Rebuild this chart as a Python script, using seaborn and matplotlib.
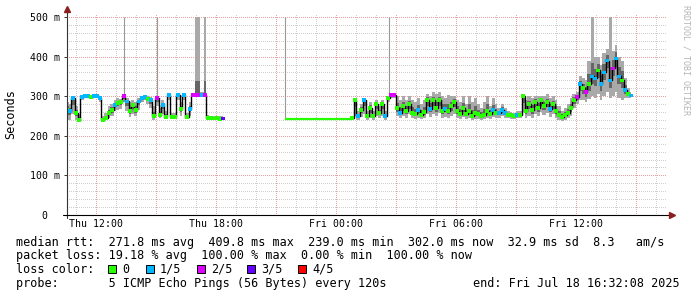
import numpy as np
import matplotlib
matplotlib.use("Agg")
import matplotlib.pyplot as plt
import seaborn as sns
from matplotlib.patches import Rectangle

# ---------------- data (hours since Thu 00:00, rtt in ms) ----------------
window_start = 10.5356   # Thu 10:32:08
window_end = 40.5356     # Fri 16:32:08
step_h = 0.15            # sampling step of the series (hours)

seg_a_start = 10.5356
seg_a_median = [265, 262, 295, 258, 240, 298, 300, 300, 298, 300,
                300, 296, 240, 245, 258, 265, 278, 283, 285, 300,
                287, 263, 278, 265, 287, 295, 298, 293, 290, 250,
                295, 252, 278, 248, 303, 248, 248, 303, 268, 303,
                248, 268, 303, 303, 303, 303, 303, 245, 245, 244,
                245, 243, 244]
seg_a_hi = [285, 280, 300, 275, 255, 302, 303, 303, 302, 303,
            303, 300, 250, 258, 275, 280, 290, 295, 292, 305,
            295, 285, 290, 285, 295, 300, 302, 300, 298, 275,
            300, 270, 290, 262, 306, 258, 258, 306, 285, 306,
            258, 285, 306, 500, 500, 310, 500, 252, 250, 250,
            250, 249, 250]
seg_a_lo = [240, 240, 255, 240, 236, 290, 295, 295, 293, 295,
            295, 285, 236, 240, 245, 250, 262, 265, 268, 285,
            262, 248, 255, 250, 265, 285, 290, 280, 270, 240,
            275, 245, 255, 242, 290, 242, 242, 290, 250, 290,
            242, 250, 298, 298, 298, 298, 298, 240, 240, 239,
            240, 239, 240]
seg_a_loss = [0, 1, 1, 0, 0, 1, 1, 1, 0, 1,
              1, 1, 0, 0, 0, 0, 1, 0, 0, 2,
              1, 0, 0, 0, 1, 1, 1, 0, 1, 0,
              2, 0, 1, 0, 1, 0, 0, 1, 0, 1,
              0, 1, 2, 2, 2, 1, 2, 0, 0, 0,
              0, 0, 3]

flat_times = [21.4356, 24.7856]
flat_median = [243, 243]

# single outlier pings (thin spikes)
spike_times = [13.3856, 15.0356, 21.4356, 26.6356]
spike_bottom = [300, 295, 243, 303]
spike_top = [500, 500, 500, 500]

seg_c_start = 24.7856
seg_c_median = [245, 290, 250, 265, 290, 250, 270, 250, 280, 258,
                280, 250, 295, 303, 303, 270, 258, 275, 262, 280,
                258, 255, 265, 252, 260, 290, 268, 290, 270, 290,
                262, 268, 262, 275, 285, 262, 255, 270, 255, 262,
                250, 258, 255, 250, 252, 262, 255, 265, 258, 258,
                265, 258, 252, 252, 250, 252, 252, 300, 262, 280,
                265, 285, 270, 290, 275, 285, 268, 280, 262, 252,
                248, 252, 258, 270, 290, 298, 330, 320, 310, 330,
                350, 345, 365, 330, 360, 390, 340, 370, 395, 350,
                340, 315, 305, 302]
seg_c_hi = [250, 295, 262, 280, 295, 262, 285, 262, 290, 275,
            290, 262, 300, 308, 308, 300, 290, 300, 290, 300,
            290, 285, 295, 280, 290, 305, 300, 310, 305, 310,
            300, 295, 303, 300, 300, 290, 285, 300, 280, 300,
            285, 295, 280, 270, 285, 300, 275, 295, 280, 270,
            280, 270, 262, 260, 258, 262, 262, 305, 290, 300,
            295, 300, 300, 300, 300, 305, 295, 300, 290, 275,
            262, 270, 280, 295, 305, 310, 350, 345, 340, 390,
            500, 400, 400, 380, 410, 420, 500, 415, 430, 400,
            390, 345, 320, 310]
seg_c_lo = [240, 250, 240, 248, 255, 240, 245, 240, 250, 245,
            250, 240, 285, 295, 295, 250, 245, 250, 245, 255,
            245, 242, 245, 242, 245, 255, 248, 255, 250, 258,
            245, 248, 245, 250, 255, 245, 242, 248, 242, 245,
            240, 242, 242, 240, 242, 245, 242, 248, 245, 245,
            250, 245, 245, 242, 242, 245, 245, 260, 245, 250,
            245, 255, 250, 260, 252, 258, 248, 255, 245, 240,
            238, 240, 245, 250, 270, 280, 290, 290, 285, 292,
            300, 295, 305, 290, 300, 310, 295, 300, 310, 295,
            290, 295, 295, 295]
seg_c_loss = [0, 0, 1, 0, 1, 0, 0, 0, 0, 0,
              0, 1, 0, 2, 2, 0, 1, 0, 0, 0,
              0, 0, 1, 0, 0, 0, 1, 0, 0, 0,
              0, 1, 0, 0, 0, 0, 0, 0, 0, 0,
              0, 0, 0, 0, 0, 0, 0, 1, 0, 1,
              1, 1, 0, 0, 0, 1, 0, 0, 0, 0,
              0, 0, 0, 0, 0, 0, 1, 0, 0, 0,
              0, 0, 0, 0, 0, 2, 1, 0, 2, 0,
              1, 1, 0, 1, 1, 1, 1, 2, 1, 1,
              0, 1, 0, 1]

loss_labels = ["0", "1/5", "2/5", "3/5", "4/5"]
loss_colors = ["#26ff00", "#00b8ff", "#dd00ff", "#6600ff", "#ff0000"]

x_tick_hours = [12, 18, 24, 30, 36]
x_tick_labels = ["Thu 12:00", "Thu 18:00", "Fri 00:00", "Fri 06:00", "Fri 12:00"]
y_ticks = [0, 100, 200, 300, 400, 500]
y_tick_labels = ["0  ", "100 m", "200 m", "300 m", "400 m", "500 m"]

legend_lines = [
    "median rtt:  271.8 ms avg  409.8 ms max  239.0 ms min  302.0 ms now  32.9 ms sd  8.3   am/s",
    "packet loss: 19.18 % avg  100.00 % max  0.00 % min  100.00 % now",
    "loss color:",
    "probe:       5 ICMP Echo Pings (56 Bytes) every 120s",
]
end_text = "end: Fri Jul 18 16:32:08 2025"

# ---------------- style ----------------
sns.set_style("white")
plt.rcParams["font.family"] = ["DejaVu Sans Mono", "DejaVu Sans"]

W, H = 697, 297
fig = plt.figure(figsize=(W / 100, H / 100), dpi=100)
fig.patch.set_facecolor("white")

ax_left, ax_right, ax_bottom, ax_top = 67, 667, 215, 14
ax = fig.add_axes([ax_left / W, 1 - ax_bottom / H, (ax_right - ax_left) / W,
                   (ax_bottom - ax_top) / H])
ymax = 500 * (ax_bottom - ax_top) / (ax_bottom - 17)
ax.set_xlim(window_start, window_end)
ax.set_ylim(0, ymax)
ax.set_facecolor("white")
for s in ax.spines.values():
    s.set_visible(False)

# grid (dotted, like rrdtool)
minor_c, major_c = "#cfcfcf", "#e8a0a0"
for h in range(11, 41):
    ax.axvline(h, color=major_c if h % 3 == 0 else minor_c, lw=0.72,
               ls=(0, (1, 2)), zorder=0, antialiased=False)
for v in range(20, 501, 20):
    ax.axhline(v, color=major_c if v % 100 == 0 else minor_c, lw=0.72,
               ls=(0, (1, 2)), zorder=0, antialiased=False)

palette = dict(zip(loss_labels, loss_colors))


def draw_segment(start, med, hi, lo, loss):
    med = np.asarray(med, float)
    hi = np.asarray(hi, float)
    lo = np.asarray(lo, float)
    assert len(med) == len(hi) == len(lo) == len(loss)
    t = start + step_h * np.arange(len(med))
    ax.fill_between(t, lo, hi, step="mid", color="#a9a9a9", lw=0, zorder=2)
    inner_hi = med + np.minimum(0.45 * (hi - med), 35)
    inner_lo = med - np.minimum(0.45 * (med - lo), 20)
    ax.fill_between(t, inner_lo, inner_hi, step="mid", color="#666666", lw=0, zorder=3)
    sns.lineplot(x=t, y=med, ax=ax, color="black", lw=1.0, drawstyle="steps-mid",
                 estimator=None, sort=False, zorder=4)
    sns.scatterplot(x=t, y=med, hue=[loss_labels[i] for i in loss], palette=palette,
                    marker="s", s=7, linewidth=0, legend=False, ax=ax, zorder=5)


draw_segment(seg_a_start, seg_a_median, seg_a_hi, seg_a_lo, seg_a_loss)
draw_segment(seg_c_start, seg_c_median, seg_c_hi, seg_c_lo, seg_c_loss)
ax.vlines(spike_times, spike_bottom, spike_top, color="#999999", lw=0.8, zorder=2)
ax.plot(flat_times, flat_median, color=loss_colors[0], lw=1.6, zorder=5,
        solid_capstyle="butt")

# axes lines with arrows
arrow_c = "#8b1f1f"
ax.plot([0, 0], [-0.015, 1.01], transform=ax.transAxes, color="#333333", lw=0.8,
        clip_on=False, zorder=6)
ax.plot([-0.006, 1.004], [0, 0], transform=ax.transAxes, color="black", lw=0.8,
        clip_on=False, zorder=6)
ax.plot([0], [1.025], marker="^", ms=4, color=arrow_c, transform=ax.transAxes,
        clip_on=False, zorder=7)
ax.plot([1.008], [0], marker=">", ms=4, color=arrow_c, transform=ax.transAxes,
        clip_on=False, zorder=7)

# ticks
ax.set_xticks(x_tick_hours, x_tick_labels)
ax.set_yticks(y_ticks, y_tick_labels)
ax.tick_params(axis="x", length=0, pad=3.2, labelsize=7.1, labelcolor="black")
ax.tick_params(axis="y", length=2.5, width=0.7, pad=2.8, labelsize=7.1,
               labelcolor="black", color="#333333", left=True)

# texts
fs = 8.5
fig.text(11 / W, 1 - 114 / H, "Seconds", rotation=90, ha="center", va="center",
         fontsize=fs, color="black")
fig.text(686 / W, 1 - 5 / H, "RRDTOOL / TOBI OETIKER", rotation=270, ha="center",
         va="top", fontsize=6.0, color="#b5b5b5")
baselines = [245.7, 259.3, 272.7, 286.7]
for line, yb in zip(legend_lines, baselines):
    fig.text(16 / W, 1 - yb / H, line, ha="left", va="baseline", fontsize=fs,
             color="black")
fig.text(680 / W, 1 - baselines[3] / H, end_text, ha="right", va="baseline",
         fontsize=fs, color="black")

box_x = [108, 146, 197, 247, 298]
text_x = [122, 160, 211, 261, 312]
for bx, tx, lab, col in zip(box_x, text_x, loss_labels, loss_colors):
    fig.add_artist(Rectangle((bx / W, 1 - 272.5 / H), 8 / W, 8 / H,
                             transform=fig.transFigure, facecolor=col,
                             edgecolor="black", lw=0.7))
    fig.text(tx / W, 1 - baselines[2] / H, lab, ha="left", va="baseline",
             fontsize=fs, color="black")

fig.savefig("out.png", dpi=100)
